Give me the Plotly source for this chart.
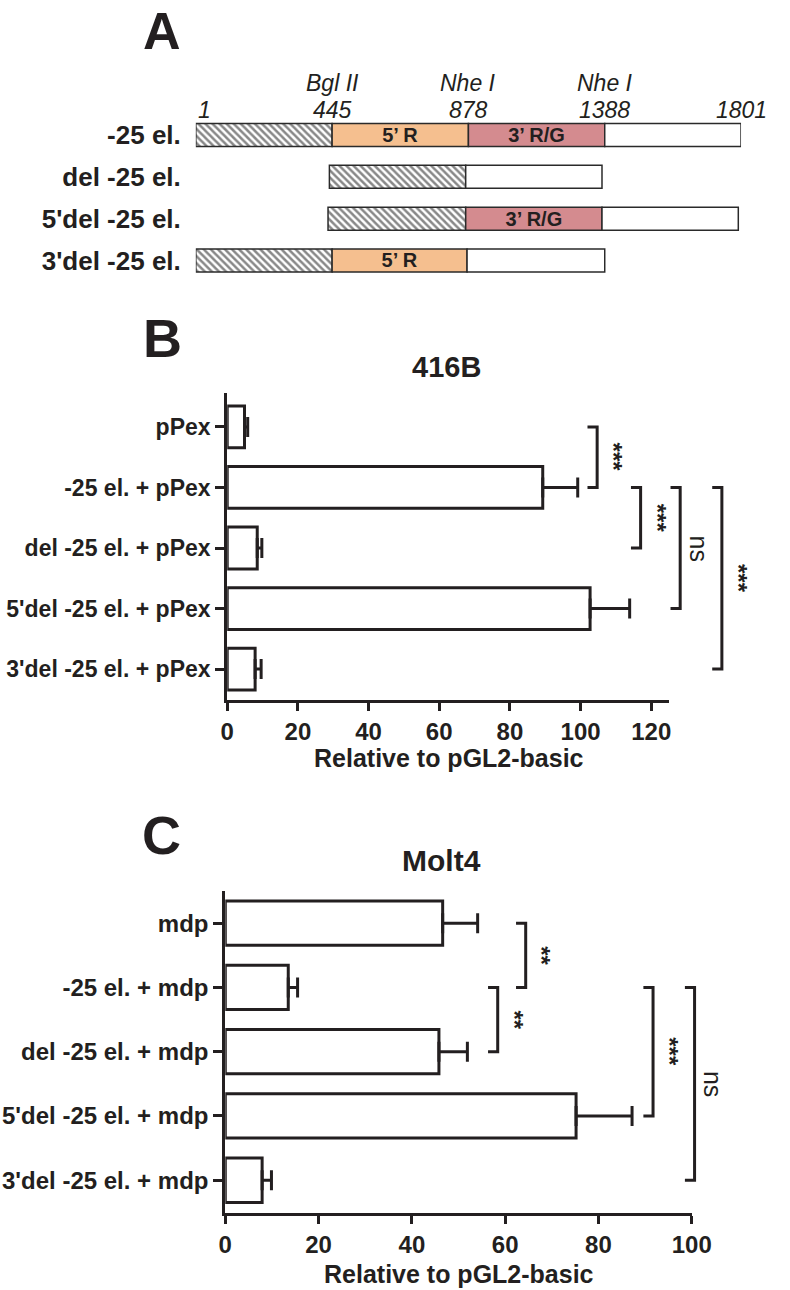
import plotly.graph_objects as go

W, H = 790, 1290
FONT = "Liberation Sans, Arial, Helvetica, sans-serif"
INK = "#231f20"

# ---------------- Panel A: construct schematic ----------------
a_rows = ["-25 el.", "del -25 el.", "5'del -25 el.", "3'del -25 el."]
a_positions = ["1", "445", "878", "1388", "1801"]
a_sites = ["Bgl II", "Nhe I", "Nhe I"]
# segment (row index, start, end) in schematic fragment units
hatch_row, hatch_start, hatch_end = [0, 1, 2, 3], [0.0, 0.98, 0.97, 0.0], [1.0, 1.98, 1.98, 1.0]
r5_row, r5_start, r5_end = [0, 3], [1.0, 1.0], [2.0, 1.99]
r3_row, r3_start, r3_end = [0, 2], [2.0, 1.98], [3.0, 2.98]
wh_row, wh_start, wh_end = [0, 1, 2, 3], [3.0, 1.98, 2.98, 1.99], [4.0, 2.98, 3.98, 3.0]
r5_text, r3_text = "5\u2019 R", "3\u2019 R/G"

# ---------------- Panel B: 416B ----------------
b_labels = ["pPex", "-25 el. + pPex", "del -25 el. + pPex",
            "5'del -25 el. + pPex", "3'del -25 el. + pPex"]
b_mean = [4.9, 89.3, 8.5, 102.7, 7.9]
b_sem = [0.9, 9.9, 1.3, 11.2, 1.7]
b_tests = [(0, 1, "***"), (1, 2, "***"), (1, 3, "ns"), (1, 4, "***")]
b_bracket_x = [104.7, 117.0, 128.2, 140.0]
b_ticks = [0, 20, 40, 60, 80, 100, 120]

# ---------------- Panel C: Molt4 ----------------
c_labels = ["mdp", "-25 el. + mdp", "del -25 el. + mdp",
            "5'del -25 el. + mdp", "3'del -25 el. + mdp"]
c_mean = [46.6, 13.5, 45.8, 75.2, 7.9]
c_sem = [7.5, 2.0, 6.1, 12.0, 2.0]
c_tests = [(0, 1, "**"), (1, 2, "**"), (1, 3, "***"), (1, 4, "ns")]
c_bracket_x = [64.4, 58.4, 91.7, 100.6]
c_ticks = [0, 20, 40, 60, 80, 100]


def px(x):
    return x / W


def py(y):
    return 1 - y / H


fig = go.Figure()

# geometry (pixels) of each panel
A_X = (195.5, 760.0)
A_Y = (114.1, 281.4)
B_X = (228.0, 685.3)
B_Y = (393.0, 700.0)
C_X = (226.0, 709.0)
C_Y = (891.0, 1213.0)
B_RANGE = [0, 125]
C_RANGE = [0, 100]


def seg_trace(rows, starts, ends, color, pattern=None, text=None):
    return go.Bar(
        orientation="h", y=rows, base=starts,
        x=[e - s for s, e in zip(starts, ends)],
        width=0.55, xaxis="x", yaxis="y",
        marker=dict(color=color, line=dict(color="#2a2a2a", width=1.5),
                    pattern=pattern),
        text=[text] * len(rows) if text else None,
        textposition="inside" if text else "none",
        insidetextanchor="middle", constraintext="none",
        textfont=dict(family=FONT, size=20, color=INK, weight="bold"),
        hoverinfo="skip", showlegend=False,
    )


fig.add_trace(seg_trace(hatch_row, hatch_start, hatch_end, "white",
                        pattern=dict(shape="\\", fgcolor="#111", bgcolor="white",
                                     size=5, solidity=0.5)))
fig.add_trace(seg_trace(r5_row, r5_start, r5_end, "#F5BF8F", text=r5_text))
fig.add_trace(seg_trace(r3_row, r3_start, r3_end, "#D48B8F", text=r3_text))
fig.add_trace(seg_trace(wh_row, wh_start, wh_end, "white"))


def bar_trace(means, sems, xa, ya):
    return go.Bar(
        orientation="h", x=means, y=list(range(len(means))), width=0.69,
        xaxis=xa, yaxis=ya,
        marker=dict(color="white", line=dict(color=INK, width=3)),
        error_x=dict(type="data", array=sems, arrayminus=[0] * len(sems),
                     symmetric=False, color=INK, thickness=3, width=10),
        hoverinfo="skip", showlegend=False,
    )


fig.add_trace(bar_trace(b_mean, b_sem, "x2", "y2"))
fig.add_trace(bar_trace(c_mean, c_sem, "x3", "y3"))


def tickfont_cat(s):
    return dict(family=FONT, size=s, color=INK, weight="bold")


fig.update_layout(
    width=W, height=H, margin=dict(l=0, r=0, t=0, b=0),
    paper_bgcolor="white", plot_bgcolor="white", barmode="overlay",
    xaxis=dict(domain=[px(A_X[0]), px(A_X[1])], range=[0, 4], visible=False,
               anchor="y"),
    yaxis=dict(domain=[py(A_Y[1]), py(A_Y[0])], range=[3.5, -0.5], anchor="x",
               tickvals=list(range(len(a_rows))), ticktext=a_rows, ticks="",
               showline=False, showgrid=False, zeroline=False,
               ticklabelstandoff=14, tickfont=tickfont_cat(26)),
    xaxis2=dict(domain=[px(B_X[0]), px(B_X[1])], range=B_RANGE, anchor="y2",
                showline=True, linewidth=3, linecolor=INK, ticks="outside",
                ticklen=8, tickwidth=3, tickcolor=INK, tickvals=b_ticks,
                showgrid=False, zeroline=False, tickfont=tickfont_cat(24)),
    yaxis2=dict(domain=[py(B_Y[1]), py(B_Y[0])], range=[4.51, -0.56], anchor="x2",
                showline=True, linewidth=3, linecolor=INK, ticks="outside",
                ticklen=9, tickwidth=3, tickcolor=INK,
                tickvals=list(range(len(b_labels))), ticktext=b_labels,
                showgrid=False, zeroline=False, tickfont=tickfont_cat(23)),
    xaxis3=dict(domain=[px(C_X[0]), px(C_X[1])], range=C_RANGE, anchor="y3",
                showline=True, linewidth=3, linecolor=INK, ticks="outside",
                ticklen=8, tickwidth=3, tickcolor=INK, tickvals=c_ticks,
                showgrid=False, zeroline=False, tickfont=tickfont_cat(24)),
    yaxis3=dict(domain=[py(C_Y[1]), py(C_Y[0])], range=[4.51, -0.5], anchor="x3",
                showline=True, linewidth=3, linecolor=INK, ticks="outside",
                ticklen=9, tickwidth=3, tickcolor=INK,
                tickvals=list(range(len(c_labels))), ticktext=c_labels,
                showgrid=False, zeroline=False, tickfont=tickfont_cat(24)),
)

ann = []


def text(x, y, s, size, bold=True, italic=False, angle=0, xref="paper", yref="paper",
         xanchor="center", yanchor="middle"):
    ann.append(dict(x=x, y=y, xref=xref, yref=yref, text=s, showarrow=False,
                    textangle=angle, xanchor=xanchor, yanchor=yanchor,
                    font=dict(family=FONT, size=size, color=INK,
                              weight="bold" if bold else "normal",
                              style="italic" if italic else "normal")))


# panel letters and titles
text(px(160), 1.0, "A", 52, yanchor="top")
text(px(161), py(338), "B", 54)
text(px(160), py(835), "C", 54)
text(px(455), py(367), "416B", 29)
text(px(450), py(860), "Molt4", 30)
text(px(458), py(758), "Relative to pGL2-basic", 25)
text(px(468), 0.0, "Relative to pGL2-basic", 25, yanchor="bottom")

# panel A position numbers and restriction sites
for i, s in enumerate(a_positions):
    text(i, py(110), s, 23, bold=False, italic=True, xref="x",
         xanchor="left" if i == 0 else "center")
for i, s in enumerate(a_sites):
    text(i + 1, py(83), s, 23, bold=False, italic=True, xref="x")


def to_paper(v, dom, rng):
    return (dom[0] + (v - rng[0]) / (rng[1] - rng[0]) * (dom[1] - dom[0])) / W


shapes = []


def brackets(tests, xs, dom, rng, yref):
    for (i, j, lab), xv in zip(tests, xs):
        xp = to_paper(xv, dom, rng)
        xt = xp - 10 / W
        shapes.append(dict(type="path", xref="paper", yref=yref,
                           path=f"M {xt} {i} L {xp} {i} L {xp} {j} L {xt} {j}",
                           line=dict(color=INK, width=3)))
        if lab == "ns":
            text(xp + 19 / W, (i + j) / 2, lab, 25, bold=False, angle=90, yref=yref)
        else:
            text(xp + 17 / W, (i + j) / 2, lab, 24, bold=True, angle=90, yref=yref)


brackets(b_tests, b_bracket_x, B_X, B_RANGE, "y2")
brackets(c_tests, c_bracket_x, C_X, C_RANGE, "y3")

fig.update_layout(annotations=ann, shapes=shapes)
# remove the browser's default 8px body margin so the 790x1290 figure fills the window
fig.write_html("out.html",
               config={"displayModeBar": False, "staticPlot": True},
               post_script="document.body.style.margin='0px';"
                           "document.documentElement.style.overflow='hidden';")
